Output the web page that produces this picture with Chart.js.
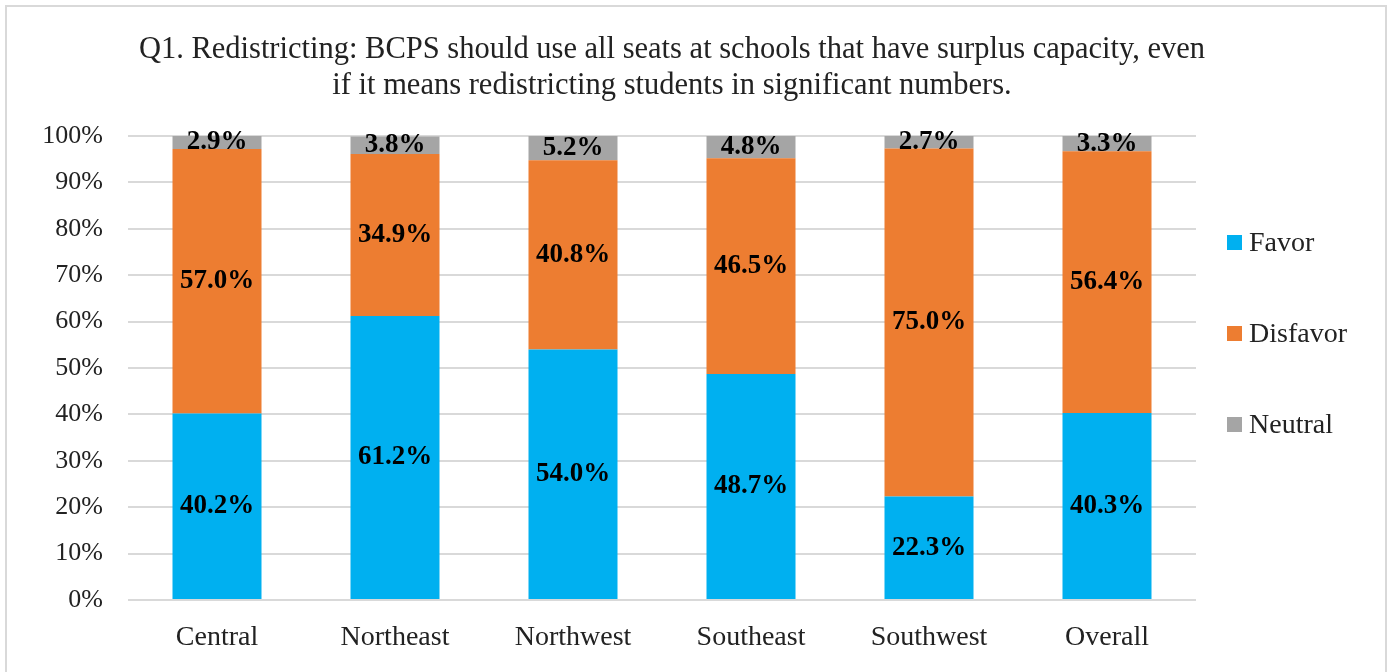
<!DOCTYPE html>
<html>
<head>
<meta charset="utf-8">
<title>Q1. Redistricting</title>
<script src="https://cdn.jsdelivr.net/npm/chart.js@4.4.1/dist/chart.umd.min.js"></script>
<style>
  html, body { margin: 0; padding: 0; background: #fff; overflow: hidden; }
  body { width: 1389px; height: 672px; position: relative; font-family: 'Liberation Serif', serif; color: #222; }
  #frame { position: absolute; left: 5px; top: 5px; width: 1378px; height: 700px; border: 2px solid #d9d9d9; }
  #chart { position: absolute; left: 0; top: 0; }
  #title { position: absolute; left: 0; top: 30px; width: 1344px; text-align: center; font-size: 30.5px; line-height: 36px; white-space: nowrap; }
  .item { position: absolute; left: 1227px; height: 36px; display: flex; align-items: center; font-size: 28px; white-space: nowrap; }
  .item span { display: inline-block; width: 15px; height: 15px; margin-right: 7px; }
</style>
</head>
<body>
<div id="frame"></div>
<canvas id="chart" width="1389" height="672"></canvas>
<div id="title">Q1. Redistricting: BCPS should use all seats at schools that have surplus capacity, even<br>if it means redistricting students in significant numbers.</div>
<div id="legend"></div>
<script>
// survey answers per region, in percent
var regions = ['Central', 'Northeast', 'Northwest', 'Southeast', 'Southwest', 'Overall'];
var favor = [40.2, 61.2, 54.0, 48.7, 22.3, 40.3];
var disfavor = [57.0, 34.9, 40.8, 46.5, 75.0, 56.4];
var neutral = [2.9, 3.8, 5.2, 4.8, 2.7, 3.3];
var yTicks = [0, 10, 20, 30, 40, 50, 60, 70, 80, 90, 100];

var seriesNames = ['Favor', 'Disfavor', 'Neutral'];
var seriesColors = ['#00b0f0', '#ed7d31', '#a5a5a5'];

Chart.defaults.font.family = "'Liberation Serif', serif";
Chart.defaults.color = '#222';

// writes the value in the middle of each bar segment
var barLabels = {
    id: 'barLabels',
    afterDatasetsDraw: function(chart) {
        var ctx = chart.ctx;
        ctx.save();
        ctx.font = "bold 27px 'Liberation Serif'";
        ctx.fillStyle = '#000';
        ctx.textAlign = 'center';
        ctx.textBaseline = 'middle';
        chart.data.datasets.forEach(function(ds, i) {
            chart.getDatasetMeta(i).data.forEach(function(bar, j) {
                ctx.fillText(ds.data[j].toFixed(1) + '%', bar.x, (bar.y + bar.base) / 2);
            });
        });
        ctx.restore();
    }
};

var values = [favor, disfavor, neutral];
var datasets = seriesNames.map(function(name, i) {
    return { label: name, data: values[i], backgroundColor: seriesColors[i], borderWidth: 0 };
});

var ctx = document.getElementById('chart').getContext('2d');
var chart = new Chart(ctx, {
    type: 'bar',
    data: { labels: regions, datasets: datasets },
    plugins: [barLabels],
    options: {
        responsive: false,
        animation: false,
        categoryPercentage: 1,
        barPercentage: 0.5,
        layout: { padding: { top: 136, right: 193, bottom: 0, left: 0 } },
        plugins: {
            legend: { display: false },
            title: { display: false },
            tooltip: { enabled: false }
        },
        scales: {
            x: {
                stacked: true,
                grid: { display: false },
                border: { display: false },
                ticks: { font: { size: 28 }, padding: 13, maxRotation: 0 },
                afterFit: function(s) { s.height = 72; }
            },
            y: {
                stacked: true,
                min: 0,
                max: 100,
                grid: { color: '#d9d9d9', lineWidth: 2, drawTicks: false },
                border: { display: false },
                ticks: {
                    font: { size: 26 },
                    padding: 25,
                    callback: function(v) { return v + '%'; }
                },
                afterBuildTicks: function(s) {
                    s.ticks = yTicks.map(function(v) { return { value: v }; });
                },
                afterFit: function(s) { s.width = 128; }
            }
        }
    }
});

// legend on the right
var legend = document.getElementById('legend');
seriesNames.forEach(function(name, i) {
    var item = document.createElement('div');
    item.className = 'item';
    item.style.top = (224 + i * 91) + 'px';
    var box = document.createElement('span');
    box.style.background = seriesColors[i];
    item.appendChild(box);
    item.appendChild(document.createTextNode(name));
    legend.appendChild(item);
});
</script>
</body>
</html>
